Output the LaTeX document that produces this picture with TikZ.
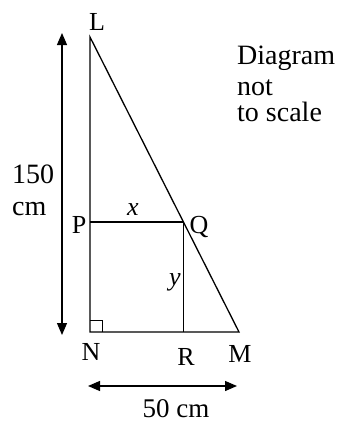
\documentclass[tikz,border=0pt]{standalone}
\usepackage{fontspec}
\setmainfont{Liberation Serif}
\usetikzlibrary{arrows.meta}
\begin{document}
\begin{tikzpicture}[x=1pt,y=-1pt,
  edge/.style={line width=1.3pt},
  dim/.style={line width=1.3pt,{Triangle[length=12pt,width=10pt]}-{Triangle[length=12pt,width=10pt]}},
  lbl/.style={inner sep=0pt,anchor=base,font=\fontsize{26}{30}\selectfont},
  txt/.style={inner sep=0pt,anchor=base west,font=\fontsize{28}{32}\selectfont}]
\useasboundingbox (0,0) rectangle (337,423);
\coordinate (L) at (90,37);
\coordinate (N) at (90,332);
\coordinate (M) at (239,332);
\coordinate (P) at (90,222);
\coordinate (Q) at (183.4,222);
\coordinate (R) at (183.4,332);
\draw[edge,line join=miter] (L) -- (N) -- (M) -- cycle;
\draw[edge] (P) -- (Q) -- (R);
\draw[line width=1pt] ([yshift=12pt]N) -- ++(12,0) -- ++(0,12);
\coordinate (vt) at (62,33);
\coordinate (vb) at (62,335);
\draw[dim] (vt) -- (vb);
\coordinate (hl) at (88,386);
\coordinate (hr) at (237,386);
\draw[dim] (hl) -- (hr);
\node[lbl] (lL) at (97,30) {L};
\node[lbl] (lP) at (79,233) {P};
\node[lbl] (lQ) at (199,233) {Q};
\node[lbl] (lN) at (91,360) {N};
\node[lbl] (lR) at (186,365) {R};
\node[lbl] (lM) at (240,362) {M};
\node[lbl] (lx) at (133,215) {\itshape x};
\node[lbl] (ly) at (175,285) {\itshape y};
\node[txt] (t150) at (12,183) {150};
\node[txt] (tcm) at (12,215) {cm};
\node[lbl,font=\fontsize{27}{30}\selectfont] (t50) at (176,417) {50 cm};
\node[txt] (d1) at (237,64) {Diagram};
\node[txt] (d2) at (237,95) {not};
\node[txt] (d3) at (237,121) {to scale};
\end{tikzpicture}
\end{document}
